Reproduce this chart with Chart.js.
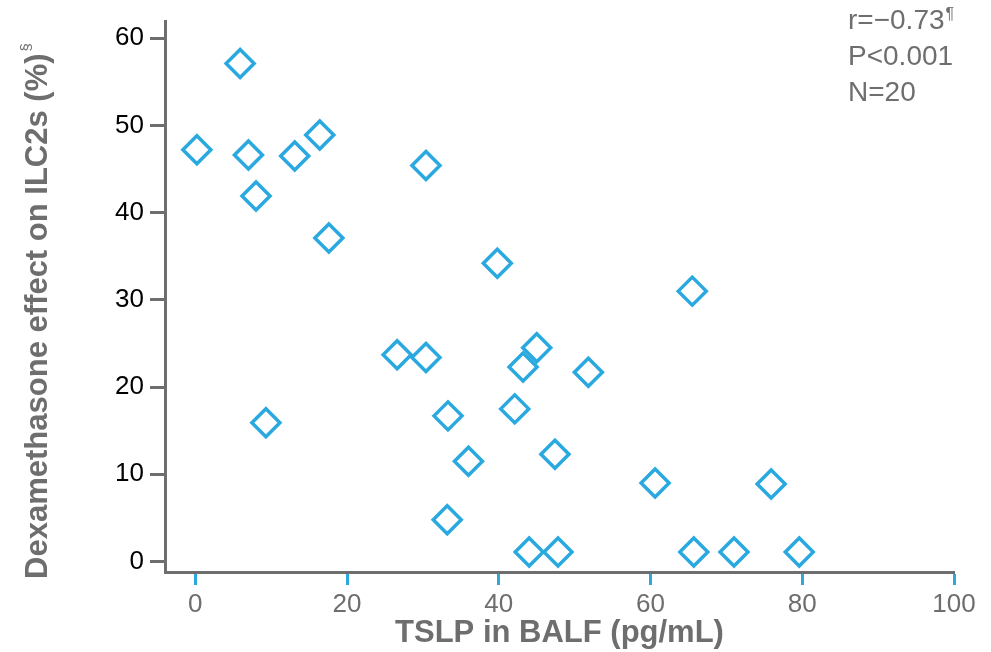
<!DOCTYPE html>
<html>
<head>
<meta charset="utf-8">
<script src="https://cdn.jsdelivr.net/npm/chart.js@4"></script>
<style>
  html, body { margin: 0; padding: 0; background: #fff; }
  #wrap { width: 991px; height: 652px; }
</style>
</head>
<body>
<div id="wrap"><canvas id="scatterChart"></canvas></div>
<script>
const tslp = [0.2, 5.9, 7.0, 8.0, 9.3, 13.1, 16.4, 17.6, 26.6, 30.4, 30.4, 33.3, 33.2, 36.0,
  39.8, 42.1, 43.2, 45.0, 44.0, 47.8, 47.4, 51.8, 65.5, 60.6, 65.7, 71.0, 75.9, 79.6];
const dexEffect = [47.2, 57.1, 46.6, 41.9, 15.9, 46.5, 48.9, 37.1, 23.7, 23.4, 45.4, 16.7, 4.8, 11.5,
  34.2, 17.5, 22.3, 24.5, 1.1, 1.1, 12.3, 21.7, 31.0, 9.0, 1.1, 1.1, 8.9, 1.1];
const xTicks = [0, 20, 40, 60, 80, 100];
const yTicks = [0, 10, 20, 30, 40, 50, 60];
const statLines = ['r=\u22120.73', 'P<0.001', 'N=20'];

const FONT = '"Liberation Sans", Arial, sans-serif';
const GREY = '#6e6e6e';
const BLUE = '#2aa9e0';

const points = tslp.map((x, i) => ({ x: x, y: dexEffect[i] }));

// y title with the superscript and the stats box in the corner
const extraText = {
  id: 'extraText',
  afterDraw(chart) {
    const c = chart.ctx;
    c.save();
    c.fillStyle = GREY;
    c.textBaseline = 'middle';
    c.textAlign = 'left';
    c.font = '28px ' + FONT;
    statLines.forEach((t, i) => {
      const y = 21 + i * 36;
      c.fillText(t, 848, y);
      if (i === 0) {
        const w = c.measureText(t).width;
        c.font = '16px ' + FONT;
        c.fillText('\u00b6', 848 + w + 1, y - 6);
        c.font = '28px ' + FONT;
      }
    });

    const main = 'Dexamethasone effect on ILC2s (%)';
    c.font = 'bold 31px ' + FONT;
    const mw = c.measureText(main).width;
    c.font = '15px ' + FONT;
    const sw = c.measureText('\u00a7').width;
    c.translate(38, 311);
    c.rotate(-Math.PI / 2);
    const x0 = -(mw + sw + 2) / 2;
    c.font = 'bold 31px ' + FONT;
    c.fillText(main, x0, 0);
    c.font = '15px ' + FONT;
    c.fillText('\u00a7', x0 + mw + 2, -11);
    c.restore();
  }
};

new Chart(document.getElementById('scatterChart'), {
  type: 'scatter',
  data: {
    datasets: [{
      data: points,
      pointStyle: 'rectRot',
      pointRadius: 14,
      pointHoverRadius: 14,
      pointBorderWidth: 3.5,
      pointBackgroundColor: 'rgba(0,0,0,0)',
      pointBorderColor: BLUE
    }]
  },
  options: {
    responsive: true,
    maintainAspectRatio: false,
    animation: false,
    events: [],
    layout: { padding: { left: 0, right: 37, top: 19, bottom: 0 } },
    plugins: {
      legend: { display: false },
      tooltip: { enabled: false }
    },
    scales: {
      x: {
        type: 'linear',
        min: -4,
        max: 100,
        afterBuildTicks: s => { s.ticks = xTicks.map(v => ({ value: v })); },
        afterFit: s => { s.height = 80; },
        border: { color: GREY, width: 3 },
        grid: { drawOnChartArea: false, drawTicks: true, tickLength: 13, tickWidth: 3, tickColor: BLUE },
        ticks: { color: GREY, font: { family: FONT, size: 26 }, padding: 4, maxRotation: 0 },
        title: {
          display: true,
          text: 'TSLP in BALF (pg/mL)',
          color: GREY,
          font: { family: FONT, size: 31, weight: 'bold' },
          padding: { top: 0, bottom: 0 }
        }
      },
      y: {
        min: -1.2,
        max: 61.9,
        afterBuildTicks: s => { s.ticks = yTicks.map(v => ({ value: v })); },
        afterFit: s => { s.width = 165; },
        border: { color: GREY, width: 3 },
        grid: { drawOnChartArea: false, drawTicks: true, tickLength: 15, tickWidth: 3, tickColor: GREY },
        ticks: { color: '#000', font: { family: FONT, size: 26 }, padding: 6 }
      }
    }
  },
  plugins: [extraText]
});
</script>
</body>
</html>
